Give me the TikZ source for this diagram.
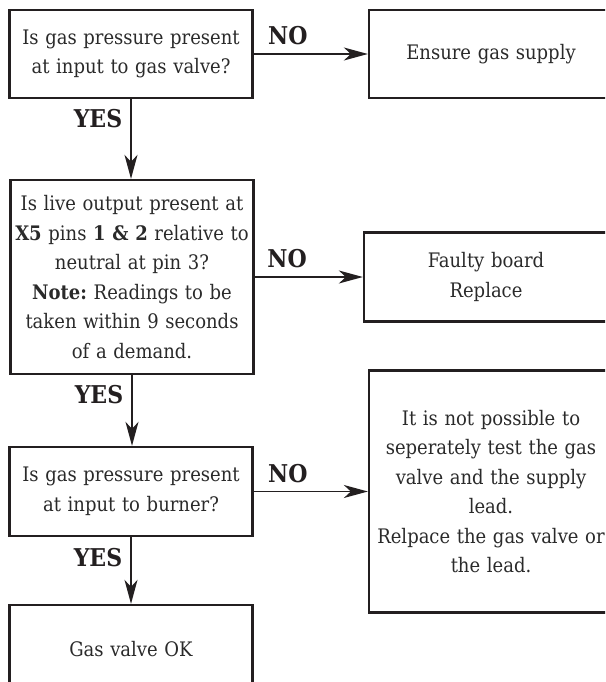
\documentclass[tikz,border=0pt]{standalone}
\usepackage{fontspec}
\IfFontExistsTF{DejaVu Serif Condensed}{\setmainfont{DejaVu Serif Condensed}}{\setmainfont{DejaVu Serif}}
\usetikzlibrary{arrows.meta}
\definecolor{boxline}{HTML}{231F20}
\definecolor{bodytext}{HTML}{2A2A2A}
\frenchspacing

\tikzset{
	chartbox/.style={draw=boxline, line width=2.3pt, minimum width=243pt, inner xsep=1pt,
		text width=240pt, align=center, text=bodytext, font=\fontsize{20}{29.5}\selectfont},
	flowarrow/.style={draw=boxline, line width=1.6pt, -{Stealth[length=24pt,width=13pt,inset=7pt]}},
	answer/.style={font=\bfseries\fontsize{24.5}{28}\selectfont, text=boxline, inner sep=8pt},
}

\begin{document}
\begin{tikzpicture}[x=1pt,y=-1pt]
	% Page frame; the right column and the last box run off the edge.
	\path[use as bounding box] (0,0) rectangle (605,682);
	\fill[white] (0,0) rectangle (605,682);
	\clip (0,0) rectangle (605,682);

	% Left column: checks in order, then the result.
	\node[chartbox, minimum height=88pt] (gasin) at (131,54)
		{Is gas pressure present\\at input to gas valve?};
	\node[chartbox, minimum height=194pt] (liveout) at (132,277)
		{Is live output present at\\\textbf{X5} pins \textbf{1 \& 2} relative to\\neutral at pin 3?\\
		\textbf{Note:} Readings to be\\taken within 9 seconds\\of a demand.};
	\node[chartbox, minimum height=89pt] (burner) at (131,491.5)
		{Is gas pressure present\\at input to burner?};
	\node[chartbox, minimum height=88pt] (valveok) at (131,649) {Gas valve OK};

	% Right column: what to do on a failed check.
	\node[chartbox, minimum width=244pt, minimum height=88pt] (supply) at (491,54)
		{Ensure gas supply};
	\node[chartbox, minimum width=244pt, minimum height=89pt] (board) at (486,277)
		{Faulty board\\Replace};
	\node[chartbox, minimum width=244pt, minimum height=242pt] (leadvalve) at (491,491.5)
		{It is not possible to\\seperately test the gas\\valve and the supply\\lead.\\
		Relpace the gas valve or\\the lead.};

	% NO branches.
	\draw[flowarrow] (gasin) -- node[answer, above, pos=0.3] {NO} (supply);
	\draw[flowarrow] (liveout) -- node[answer, above, pos=0.3] {NO} (board);
	\draw[flowarrow] (burner) -- node[answer, above, pos=0.3] {NO} (leadvalve);

	% YES branches.
	\draw[flowarrow] (gasin.south -| gasin) -- node[answer, left, pos=0.24] {YES} (gasin.south |- liveout.north);
	\draw[flowarrow] (liveout) -- node[answer, left, pos=0.28] {YES} (liveout |- burner.north);
	\draw[flowarrow] (burner) -- node[answer, left, pos=0.31] {YES} (valveok);
\end{tikzpicture}
\end{document}
